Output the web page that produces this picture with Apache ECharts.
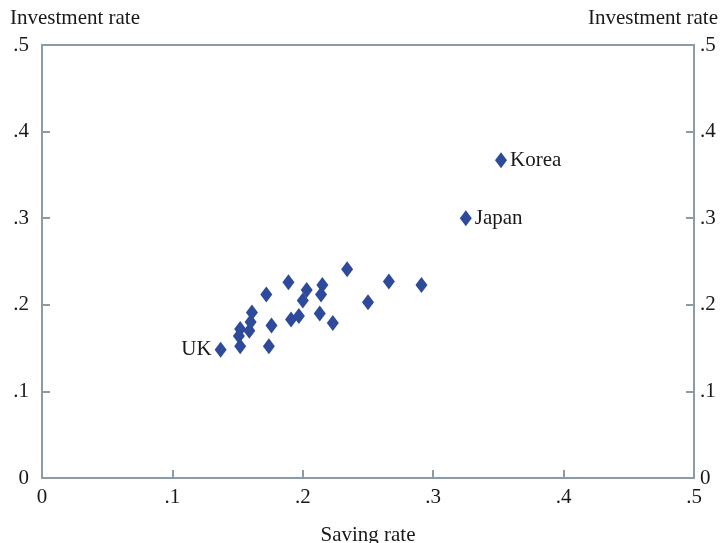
<!DOCTYPE html>
<html>
<head>
<meta charset="utf-8">
<script src="https://cdn.jsdelivr.net/npm/echarts@6/dist/echarts.min.js"></script>
<style>
  html, body { margin: 0; padding: 0; background: #fff; }
  #chart { width: 722px; height: 543px; }
</style>
</head>
<body>
<div id="chart"></div>
<script>
// Saving rate (x) vs. investment rate (y) by country
const savingRate = [0.137, 0.152, 0.151, 0.152, 0.159, 0.160, 0.161, 0.172, 0.176, 0.174,
  0.189, 0.191, 0.197, 0.200, 0.203, 0.213, 0.215, 0.214, 0.223, 0.234,
  0.250, 0.266, 0.291, 0.325, 0.352];
const investmentRate = [0.148, 0.152, 0.164, 0.172, 0.170, 0.180, 0.191, 0.212, 0.176, 0.152,
  0.226, 0.183, 0.187, 0.205, 0.217, 0.190, 0.223, 0.212, 0.179, 0.241,
  0.203, 0.227, 0.223, 0.300, 0.367];
const countryLabels = ['UK', '', '', '', '', '', '', '', '', '',
  '', '', '', '', '', '', '', '', '', '',
  '', '', '', 'Japan', 'Korea'];
const tickValues = [0, 0.1, 0.2, 0.3, 0.4, 0.5];
const tickLabels = ['0', '.1', '.2', '.3', '.4', '.5'];
const xTitle = 'Saving rate';
const yTitle = 'Investment rate';

const FONT = '"Liberation Serif", "Times New Roman", serif';
const AXIS = '#8c9ba6';
const TEXT = '#1a1818';
const MARK = '#2e4a9a';
const FS = 21;

const fmt = v => {
  const i = tickValues.findIndex(t => Math.abs(t - v) < 1e-9);
  return i >= 0 ? tickLabels[i] : '';
};

const points = savingRate.map((x, i) => ({
  value: [x, investmentRate[i]],
  label: countryLabels[i] ? {
    show: true,
    formatter: countryLabels[i],
    position: countryLabels[i] === 'UK' ? 'left' : 'right',
    distance: 3
  } : { show: false }
}));

const valueAxisBase = {
  type: 'value', min: 0, max: 0.5, interval: 0.1,
  axisLine: { show: true, lineStyle: { color: AXIS, width: 2 } },
  axisTick: { show: true, inside: true, length: 8, lineStyle: { color: AXIS, width: 2 } },
  splitLine: { show: false },
  axisLabel: { formatter: fmt, color: TEXT, fontFamily: FONT, fontSize: FS }
};

const chart = echarts.init(document.getElementById('chart'), null, { renderer: 'canvas' });
chart.setOption({
  animation: false,
  backgroundColor: '#fff',
  grid: {
    left: 42, right: 28, top: 45, bottom: 65,
    outerBoundsMode: 'none', containLabel: false,
    show: true, borderColor: AXIS, borderWidth: 2
  },
  xAxis: Object.assign({}, valueAxisBase, {
    position: 'bottom',
    name: xTitle, nameLocation: 'middle', nameGap: 47,
    nameTextStyle: { color: TEXT, fontFamily: FONT, fontSize: FS },
    axisLabel: Object.assign({}, valueAxisBase.axisLabel, { margin: 9 })
  }),
  yAxis: [
    Object.assign({}, valueAxisBase, {
      position: 'left',
      axisLabel: Object.assign({}, valueAxisBase.axisLabel, { margin: 13 })
    }),
    Object.assign({}, valueAxisBase, {
      position: 'right',
      axisLabel: Object.assign({}, valueAxisBase.axisLabel, { margin: 6 })
    })
  ],
  graphic: [
    { type: 'text', left: 10, top: 8, style: { text: yTitle, fill: TEXT, font: FS + 'px ' + FONT } },
    { type: 'text', right: 4, top: 8, style: { text: yTitle, fill: TEXT, font: FS + 'px ' + FONT } }
  ],
  series: [{
    type: 'scatter',
    symbol: 'diamond',
    symbolSize: [12, 16],
    itemStyle: { color: MARK, opacity: 1 },
    label: { color: TEXT, fontFamily: FONT, fontSize: FS },
    data: points
  }]
});
</script>
</body>
</html>
